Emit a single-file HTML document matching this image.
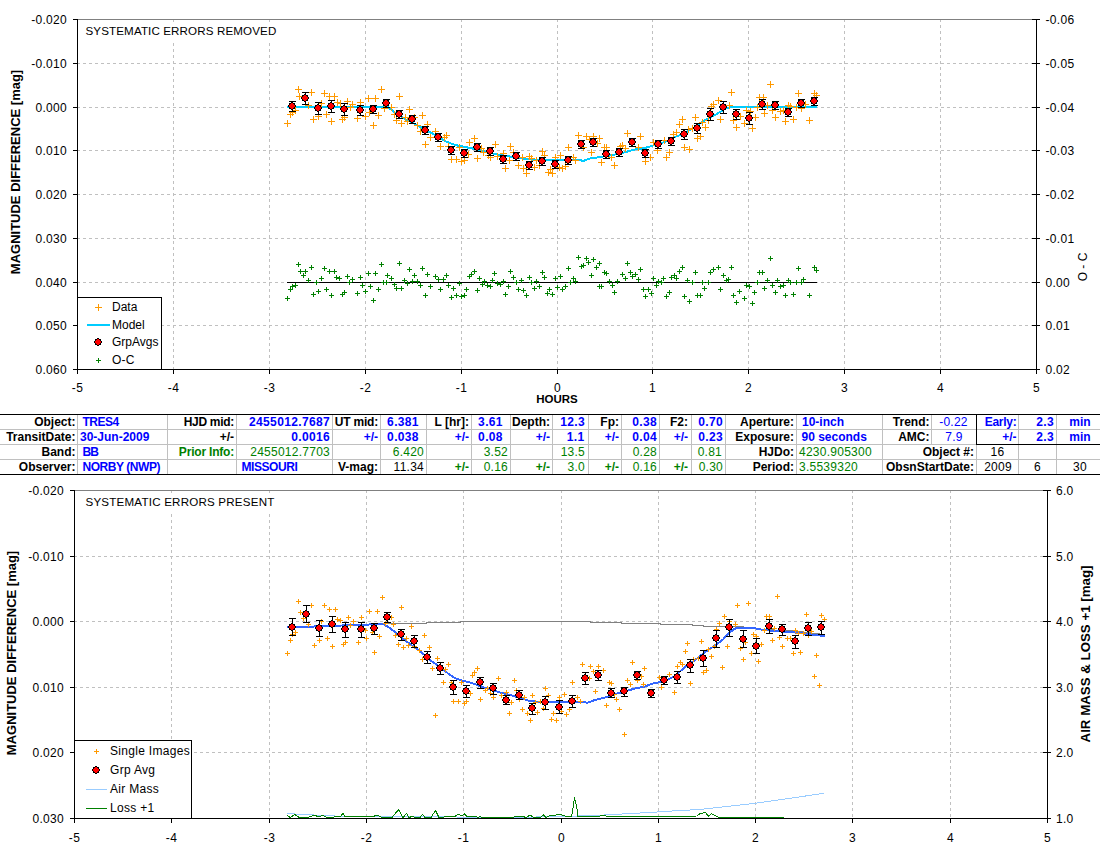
<!DOCTYPE html>
<html><head><meta charset="utf-8"><title>Transit light curve</title>
<style>
html,body{margin:0;padding:0;background:#fff;}
body{width:1100px;height:845px;overflow:hidden;position:relative;}
svg{position:absolute;left:0;top:0;}
.t{position:absolute;font-family:"Liberation Sans",sans-serif;font-size:12px;line-height:15px;height:15px;white-space:nowrap;}
.b{font-weight:bold;letter-spacing:0;}
.t:not(.b){letter-spacing:0.25px;}
</style></head><body>
<svg width="1100" height="845" viewBox="0 0 1100 845">
<g shape-rendering="crispEdges">
<line x1="77" y1="63.5" x2="1036" y2="63.5" stroke="#c0c0c0" stroke-width="1" stroke-dasharray="3 3"/>
<line x1="77" y1="107.5" x2="1036" y2="107.5" stroke="#c0c0c0" stroke-width="1" stroke-dasharray="3 3"/>
<line x1="77" y1="150.5" x2="1036" y2="150.5" stroke="#c0c0c0" stroke-width="1" stroke-dasharray="3 3"/>
<line x1="77" y1="194.5" x2="1036" y2="194.5" stroke="#c0c0c0" stroke-width="1" stroke-dasharray="3 3"/>
<line x1="77" y1="238.5" x2="1036" y2="238.5" stroke="#c0c0c0" stroke-width="1" stroke-dasharray="3 3"/>
<line x1="77" y1="282.5" x2="1036" y2="282.5" stroke="#c0c0c0" stroke-width="1" stroke-dasharray="3 3"/>
<line x1="77" y1="325.5" x2="1036" y2="325.5" stroke="#c0c0c0" stroke-width="1" stroke-dasharray="3 3"/>
<line x1="173.5" y1="19" x2="173.5" y2="369" stroke="#c0c0c0" stroke-width="1" stroke-dasharray="3 3"/>
<line x1="269.5" y1="19" x2="269.5" y2="369" stroke="#c0c0c0" stroke-width="1" stroke-dasharray="3 3"/>
<line x1="365.5" y1="19" x2="365.5" y2="369" stroke="#c0c0c0" stroke-width="1" stroke-dasharray="3 3"/>
<line x1="461.5" y1="19" x2="461.5" y2="369" stroke="#c0c0c0" stroke-width="1" stroke-dasharray="3 3"/>
<line x1="557.5" y1="19" x2="557.5" y2="369" stroke="#c0c0c0" stroke-width="1" stroke-dasharray="3 3"/>
<line x1="652.5" y1="19" x2="652.5" y2="369" stroke="#c0c0c0" stroke-width="1" stroke-dasharray="3 3"/>
<line x1="748.5" y1="19" x2="748.5" y2="369" stroke="#c0c0c0" stroke-width="1" stroke-dasharray="3 3"/>
<line x1="844.5" y1="19" x2="844.5" y2="369" stroke="#c0c0c0" stroke-width="1" stroke-dasharray="3 3"/>
<line x1="940.5" y1="19" x2="940.5" y2="369" stroke="#c0c0c0" stroke-width="1" stroke-dasharray="3 3"/>
<rect x="80" y="22" width="200" height="21" fill="#fff"/>
<line x1="77" y1="19.5" x2="1037" y2="19.5" stroke="#808080" stroke-width="1"/>
<line x1="77.5" y1="19" x2="77.5" y2="370" stroke="#000" stroke-width="1"/>
<line x1="1036.5" y1="19" x2="1036.5" y2="370" stroke="#000" stroke-width="1"/>
<line x1="77" y1="369.5" x2="1037" y2="369.5" stroke="#000" stroke-width="1"/>
<line x1="73" y1="19.5" x2="77" y2="19.5" stroke="#000" stroke-width="1"/>
<line x1="1032" y1="19.5" x2="1040" y2="19.5" stroke="#000" stroke-width="1"/>
<line x1="73" y1="63.5" x2="77" y2="63.5" stroke="#000" stroke-width="1"/>
<line x1="1032" y1="63.5" x2="1040" y2="63.5" stroke="#000" stroke-width="1"/>
<line x1="73" y1="107.5" x2="77" y2="107.5" stroke="#000" stroke-width="1"/>
<line x1="1032" y1="107.5" x2="1040" y2="107.5" stroke="#000" stroke-width="1"/>
<line x1="73" y1="150.5" x2="77" y2="150.5" stroke="#000" stroke-width="1"/>
<line x1="1032" y1="150.5" x2="1040" y2="150.5" stroke="#000" stroke-width="1"/>
<line x1="73" y1="194.5" x2="77" y2="194.5" stroke="#000" stroke-width="1"/>
<line x1="1032" y1="194.5" x2="1040" y2="194.5" stroke="#000" stroke-width="1"/>
<line x1="73" y1="238.5" x2="77" y2="238.5" stroke="#000" stroke-width="1"/>
<line x1="1032" y1="238.5" x2="1040" y2="238.5" stroke="#000" stroke-width="1"/>
<line x1="73" y1="282.5" x2="77" y2="282.5" stroke="#000" stroke-width="1"/>
<line x1="1032" y1="282.5" x2="1040" y2="282.5" stroke="#000" stroke-width="1"/>
<line x1="73" y1="325.5" x2="77" y2="325.5" stroke="#000" stroke-width="1"/>
<line x1="1032" y1="325.5" x2="1040" y2="325.5" stroke="#000" stroke-width="1"/>
<line x1="73" y1="369.5" x2="77" y2="369.5" stroke="#000" stroke-width="1"/>
<line x1="1032" y1="369.5" x2="1040" y2="369.5" stroke="#000" stroke-width="1"/>
<line x1="77.5" y1="369" x2="77.5" y2="374" stroke="#000" stroke-width="1"/>
<line x1="173.5" y1="369" x2="173.5" y2="374" stroke="#000" stroke-width="1"/>
<line x1="269.5" y1="369" x2="269.5" y2="374" stroke="#000" stroke-width="1"/>
<line x1="365.5" y1="369" x2="365.5" y2="374" stroke="#000" stroke-width="1"/>
<line x1="461.5" y1="369" x2="461.5" y2="374" stroke="#000" stroke-width="1"/>
<line x1="557.5" y1="369" x2="557.5" y2="374" stroke="#000" stroke-width="1"/>
<line x1="652.5" y1="369" x2="652.5" y2="374" stroke="#000" stroke-width="1"/>
<line x1="748.5" y1="369" x2="748.5" y2="374" stroke="#000" stroke-width="1"/>
<line x1="844.5" y1="369" x2="844.5" y2="374" stroke="#000" stroke-width="1"/>
<line x1="940.5" y1="369" x2="940.5" y2="374" stroke="#000" stroke-width="1"/>
<line x1="1036.5" y1="369" x2="1036.5" y2="374" stroke="#000" stroke-width="1"/>
<line x1="287" y1="282.5" x2="817" y2="282.5" stroke="#000" stroke-width="1"/>
</g>
<polyline points="287,106.8 388,107 394,112 405,119 415,124 425,129.5 435,135 445,141 455,145 465,147 475,149 485,151.5 495,154 505,156 515,157 520,158 530,159.5 550,160 580,160 583,161 590,158.5 600,157 610,155.5 620,153.5 635,149.5 645,148 655,145 665,142 675,137 685,133 695,127 705,120 715,115 720,112 725,109 730,107 817,107" fill="none" stroke="#00ccff" stroke-width="2" shape-rendering="crispEdges" stroke-linejoin="miter"/>
<g shape-rendering="crispEdges">
<path d="M295,89.5h7M298.5,86v7M308,92.5h7M311.5,89v7M296,96.5h7M299.5,93v7M321,93.5h7M324.5,90v7M326,96.5h7M329.5,93v7M331,96.5h7M334.5,93v7M334,102.5h7M337.5,99v7M318,103.5h7M321.5,100v7M337,103.5h7M340.5,100v7M344,101.5h7M347.5,98v7M349,104.5h7M352.5,101v7M357,102.5h7M360.5,99v7M365,98.5h7M368.5,95v7M372,98.5h7M375.5,95v7M378,89.5h7M381.5,86v7M305,105.5h7M308.5,102v7M292,110.5h7M295.5,107v7M289,112.5h7M292.5,109v7M287,114.5h7M290.5,111v7M284,123.5h7M287.5,120v7M310,119.5h7M313.5,116v7M315,116.5h7M318.5,113v7M323,114.5h7M326.5,111v7M328,121.5h7M331.5,118v7M339,119.5h7M342.5,116v7M341,117.5h7M344.5,114v7M347,107.5h7M350.5,104v7M354,118.5h7M357.5,115v7M362,116.5h7M365.5,113v7M375,115.5h7M378.5,112v7M370,125.5h7M373.5,122v7M366,112.5h7M369.5,109v7M381,108.5h7M384.5,105v7M396,96.5h7M399.5,93v7M388,107.5h7M391.5,104v7M406,109.5h7M409.5,106v7M419,115.5h7M422.5,112v7M391,114.5h7M394.5,111v7M393,120.5h7M396.5,117v7M398,123.5h7M401.5,120v7M402,117.5h7M405.5,114v7M404,121.5h7M407.5,118v7M411,117.5h7M414.5,114v7M414,125.5h7M417.5,122v7M424,124.5h7M427.5,121v7M417,131.5h7M420.5,128v7M432,131.5h7M435.5,128v7M422,144.5h7M425.5,141v7M427,137.5h7M430.5,134v7M443,135.5h7M446.5,132v7M441,137.5h7M444.5,134v7M437,146.5h7M440.5,143v7M445,146.5h7M448.5,143v7M456,147.5h7M459.5,144v7M448,159.5h7M451.5,156v7M453,159.5h7M456.5,156v7M458,161.5h7M461.5,158v7M461,160.5h7M464.5,157v7M465,154.5h7M468.5,151v7M466,142.5h7M469.5,139v7M471,138.5h7M474.5,135v7M474,158.5h7M477.5,155v7M478,148.5h7M481.5,145v7M480,152.5h7M483.5,149v7M485,155.5h7M488.5,152v7M487,157.5h7M490.5,154v7M492,144.5h7M495.5,141v7M494,156.5h7M497.5,153v7M500,153.5h7M503.5,150v7M506,160.5h7M509.5,157v7M502,168.5h7M505.5,165v7M507,146.5h7M510.5,143v7M510,152.5h7M513.5,149v7M519,157.5h7M522.5,154v7M515,165.5h7M518.5,162v7M520,168.5h7M523.5,165v7M523,173.5h7M526.5,170v7M526,156.5h7M529.5,153v7M528,158.5h7M531.5,155v7M531,167.5h7M534.5,164v7M533,160.5h7M536.5,157v7M536,165.5h7M539.5,162v7M539,151.5h7M542.5,148v7M541,155.5h7M544.5,152v7M545,172.5h7M548.5,169v7M547,169.5h7M550.5,166v7M549,173.5h7M552.5,170v7M552,157.5h7M555.5,154v7M557,155.5h7M560.5,152v7M556,167.5h7M559.5,164v7M559,168.5h7M562.5,165v7M562,166.5h7M565.5,163v7M565,147.5h7M568.5,144v7M570,157.5h7M573.5,154v7M572,160.5h7M575.5,157v7M575,135.5h7M578.5,132v7M580,147.5h7M583.5,144v7M583,136.5h7M586.5,133v7M586,139.5h7M589.5,136v7M590,136.5h7M593.5,133v7M596,138.5h7M599.5,135v7M594,143.5h7M597.5,140v7M588,152.5h7M591.5,149v7M601,147.5h7M604.5,144v7M603,147.5h7M606.5,144v7M598,162.5h7M601.5,159v7M608,157.5h7M611.5,154v7M611,165.5h7M614.5,162v7M617,146.5h7M620.5,143v7M624,133.5h7M627.5,130v7M619,145.5h7M622.5,142v7M622,148.5h7M625.5,145v7M637,136.5h7M640.5,133v7M635,147.5h7M638.5,144v7M647,157.5h7M650.5,154v7M642,161.5h7M645.5,158v7M650,142.5h7M653.5,139v7M654,150.5h7M657.5,147v7M661,140.5h7M664.5,137v7M666,152.5h7M669.5,149v7M663,157.5h7M666.5,154v7M670,134.5h7M673.5,131v7M673,132.5h7M676.5,129v7M676,124.5h7M679.5,121v7M679,119.5h7M682.5,116v7M681,147.5h7M684.5,144v7M686,149.5h7M689.5,146v7M685,129.5h7M688.5,126v7M689,128.5h7M692.5,125v7M692,117.5h7M695.5,114v7M694,138.5h7M697.5,135v7M697,136.5h7M700.5,133v7M699,122.5h7M702.5,119v7M702,127.5h7M705.5,124v7M705,120.5h7M708.5,117v7M708,106.5h7M711.5,103v7M710,104.5h7M713.5,101v7M715,100.5h7M718.5,97v7M717,119.5h7M720.5,116v7M728,92.5h7M731.5,89v7M726,105.5h7M729.5,102v7M730,120.5h7M733.5,117v7M733,127.5h7M736.5,124v7M737,116.5h7M740.5,113v7M741,123.5h7M744.5,120v7M743,110.5h7M746.5,107v7M747,111.5h7M750.5,108v7M752,117.5h7M755.5,114v7M749,128.5h7M752.5,125v7M754,107.5h7M757.5,104v7M756,97.5h7M759.5,94v7M760,97.5h7M763.5,94v7M761,113.5h7M764.5,110v7M764,105.5h7M767.5,102v7M767,84.5h7M770.5,81v7M769,110.5h7M772.5,107v7M772,117.5h7M775.5,114v7M777,111.5h7M780.5,108v7M780,110.5h7M783.5,107v7M782,121.5h7M785.5,118v7M785,105.5h7M788.5,102v7M787,106.5h7M790.5,103v7M790,119.5h7M793.5,116v7M793,107.5h7M796.5,104v7M795,93.5h7M798.5,90v7M798,108.5h7M801.5,105v7M802,104.5h7M805.5,101v7M806,120.5h7M809.5,117v7M811,93.5h7M814.5,90v7M813,95.5h7M816.5,92v7" stroke="#ff9900" stroke-width="1" fill="none"/>
</g>
<g shape-rendering="crispEdges">
<path d="M292.5,101V112M289,101.5h7M289,111.5h7M305.5,92V105M302,92.5h7M302,104.5h7M318.5,102V115M315,102.5h7M315,114.5h7M331.5,100V113M328,100.5h7M328,112.5h7M344.5,103V116M341,103.5h7M341,115.5h7M360.5,105V116M357,105.5h7M357,115.5h7M373.5,105V114M370,105.5h7M370,113.5h7M386.5,99V108M383,99.5h7M383,107.5h7M399.5,110V119M396,110.5h7M396,118.5h7M412.5,115V124M409,115.5h7M409,123.5h7M425.5,126V135M422,126.5h7M422,134.5h7M438.5,133V142M435,133.5h7M435,141.5h7M451.5,146V155M448,146.5h7M448,154.5h7M464.5,149V158M461,149.5h7M461,157.5h7M477.5,143V152M474,143.5h7M474,151.5h7M490.5,147V156M487,147.5h7M487,155.5h7M503.5,155V164M500,155.5h7M500,163.5h7M516.5,152V161M513,152.5h7M513,160.5h7M529.5,161V170M526,161.5h7M526,169.5h7M542.5,157V166M539,157.5h7M539,165.5h7M555.5,160V169M552,160.5h7M552,168.5h7M568.5,156V165M565,156.5h7M565,164.5h7M581.5,140V149M578,140.5h7M578,148.5h7M593.5,138V147M590,138.5h7M590,146.5h7M606.5,150V159M603,150.5h7M603,158.5h7M619.5,148V157M616,148.5h7M616,156.5h7M632.5,138V147M629,138.5h7M629,146.5h7M645.5,149V158M642,149.5h7M642,157.5h7M658.5,140V149M655,140.5h7M655,148.5h7M671.5,137V146M668,137.5h7M668,145.5h7M684.5,129V140M681,129.5h7M681,139.5h7M697.5,123V134M694,123.5h7M694,133.5h7M710.5,108V121M707,108.5h7M707,120.5h7M723.5,101V114M720,101.5h7M720,113.5h7M736.5,109V120M733,109.5h7M733,119.5h7M749.5,112V125M746,112.5h7M746,124.5h7M762.5,99V110M759,99.5h7M759,109.5h7M775.5,101V110M772,101.5h7M772,109.5h7M788.5,108V117M785,108.5h7M785,116.5h7M801.5,99V108M798,99.5h7M798,107.5h7M814.5,97V106M811,97.5h7M811,105.5h7" stroke="#000" stroke-width="1" fill="none"/>
</g>
<path d="M291,102h2v1h2v2h1v2h-1v2h-2v1h-2v-1h-2v-2h-1v-2h1v-2h2zM304,94h2v1h2v2h1v2h-1v2h-2v1h-2v-1h-2v-2h-1v-2h1v-2h2zM317,104h2v1h2v2h1v2h-1v2h-2v1h-2v-1h-2v-2h-1v-2h1v-2h2zM330,102h2v1h2v2h1v2h-1v2h-2v1h-2v-1h-2v-2h-1v-2h1v-2h2zM343,105h2v1h2v2h1v2h-1v2h-2v1h-2v-1h-2v-2h-1v-2h1v-2h2zM359,106h2v1h2v2h1v2h-1v2h-2v1h-2v-1h-2v-2h-1v-2h1v-2h2zM372,105h2v1h2v2h1v2h-1v2h-2v1h-2v-1h-2v-2h-1v-2h1v-2h2zM385,99h2v1h2v2h1v2h-1v2h-2v1h-2v-1h-2v-2h-1v-2h1v-2h2zM398,110h2v1h2v2h1v2h-1v2h-2v1h-2v-1h-2v-2h-1v-2h1v-2h2zM411,115h2v1h2v2h1v2h-1v2h-2v1h-2v-1h-2v-2h-1v-2h1v-2h2zM424,126h2v1h2v2h1v2h-1v2h-2v1h-2v-1h-2v-2h-1v-2h1v-2h2zM437,133h2v1h2v2h1v2h-1v2h-2v1h-2v-1h-2v-2h-1v-2h1v-2h2zM450,146h2v1h2v2h1v2h-1v2h-2v1h-2v-1h-2v-2h-1v-2h1v-2h2zM463,149h2v1h2v2h1v2h-1v2h-2v1h-2v-1h-2v-2h-1v-2h1v-2h2zM476,143h2v1h2v2h1v2h-1v2h-2v1h-2v-1h-2v-2h-1v-2h1v-2h2zM489,147h2v1h2v2h1v2h-1v2h-2v1h-2v-1h-2v-2h-1v-2h1v-2h2zM502,155h2v1h2v2h1v2h-1v2h-2v1h-2v-1h-2v-2h-1v-2h1v-2h2zM515,152h2v1h2v2h1v2h-1v2h-2v1h-2v-1h-2v-2h-1v-2h1v-2h2zM528,161h2v1h2v2h1v2h-1v2h-2v1h-2v-1h-2v-2h-1v-2h1v-2h2zM541,157h2v1h2v2h1v2h-1v2h-2v1h-2v-1h-2v-2h-1v-2h1v-2h2zM554,160h2v1h2v2h1v2h-1v2h-2v1h-2v-1h-2v-2h-1v-2h1v-2h2zM567,156h2v1h2v2h1v2h-1v2h-2v1h-2v-1h-2v-2h-1v-2h1v-2h2zM580,140h2v1h2v2h1v2h-1v2h-2v1h-2v-1h-2v-2h-1v-2h1v-2h2zM592,138h2v1h2v2h1v2h-1v2h-2v1h-2v-1h-2v-2h-1v-2h1v-2h2zM605,150h2v1h2v2h1v2h-1v2h-2v1h-2v-1h-2v-2h-1v-2h1v-2h2zM618,148h2v1h2v2h1v2h-1v2h-2v1h-2v-1h-2v-2h-1v-2h1v-2h2zM631,138h2v1h2v2h1v2h-1v2h-2v1h-2v-1h-2v-2h-1v-2h1v-2h2zM644,149h2v1h2v2h1v2h-1v2h-2v1h-2v-1h-2v-2h-1v-2h1v-2h2zM657,140h2v1h2v2h1v2h-1v2h-2v1h-2v-1h-2v-2h-1v-2h1v-2h2zM670,137h2v1h2v2h1v2h-1v2h-2v1h-2v-1h-2v-2h-1v-2h1v-2h2zM683,130h2v1h2v2h1v2h-1v2h-2v1h-2v-1h-2v-2h-1v-2h1v-2h2zM696,124h2v1h2v2h1v2h-1v2h-2v1h-2v-1h-2v-2h-1v-2h1v-2h2zM709,110h2v1h2v2h1v2h-1v2h-2v1h-2v-1h-2v-2h-1v-2h1v-2h2zM722,103h2v1h2v2h1v2h-1v2h-2v1h-2v-1h-2v-2h-1v-2h1v-2h2zM735,110h2v1h2v2h1v2h-1v2h-2v1h-2v-1h-2v-2h-1v-2h1v-2h2zM748,114h2v1h2v2h1v2h-1v2h-2v1h-2v-1h-2v-2h-1v-2h1v-2h2zM761,100h2v1h2v2h1v2h-1v2h-2v1h-2v-1h-2v-2h-1v-2h1v-2h2zM774,101h2v1h2v2h1v2h-1v2h-2v1h-2v-1h-2v-2h-1v-2h1v-2h2zM787,108h2v1h2v2h1v2h-1v2h-2v1h-2v-1h-2v-2h-1v-2h1v-2h2zM800,99h2v1h2v2h1v2h-1v2h-2v1h-2v-1h-2v-2h-1v-2h1v-2h2zM813,97h2v1h2v2h1v2h-1v2h-2v1h-2v-1h-2v-2h-1v-2h1v-2h2z" fill="#000" shape-rendering="crispEdges"/>
<path d="M291,103h2v1h1v1h1v2h-1v1h-1v1h-2v-1h-1v-1h-1v-2h1v-1h1zM304,95h2v1h1v1h1v2h-1v1h-1v1h-2v-1h-1v-1h-1v-2h1v-1h1zM317,105h2v1h1v1h1v2h-1v1h-1v1h-2v-1h-1v-1h-1v-2h1v-1h1zM330,103h2v1h1v1h1v2h-1v1h-1v1h-2v-1h-1v-1h-1v-2h1v-1h1zM343,106h2v1h1v1h1v2h-1v1h-1v1h-2v-1h-1v-1h-1v-2h1v-1h1zM359,107h2v1h1v1h1v2h-1v1h-1v1h-2v-1h-1v-1h-1v-2h1v-1h1zM372,106h2v1h1v1h1v2h-1v1h-1v1h-2v-1h-1v-1h-1v-2h1v-1h1zM385,100h2v1h1v1h1v2h-1v1h-1v1h-2v-1h-1v-1h-1v-2h1v-1h1zM398,111h2v1h1v1h1v2h-1v1h-1v1h-2v-1h-1v-1h-1v-2h1v-1h1zM411,116h2v1h1v1h1v2h-1v1h-1v1h-2v-1h-1v-1h-1v-2h1v-1h1zM424,127h2v1h1v1h1v2h-1v1h-1v1h-2v-1h-1v-1h-1v-2h1v-1h1zM437,134h2v1h1v1h1v2h-1v1h-1v1h-2v-1h-1v-1h-1v-2h1v-1h1zM450,147h2v1h1v1h1v2h-1v1h-1v1h-2v-1h-1v-1h-1v-2h1v-1h1zM463,150h2v1h1v1h1v2h-1v1h-1v1h-2v-1h-1v-1h-1v-2h1v-1h1zM476,144h2v1h1v1h1v2h-1v1h-1v1h-2v-1h-1v-1h-1v-2h1v-1h1zM489,148h2v1h1v1h1v2h-1v1h-1v1h-2v-1h-1v-1h-1v-2h1v-1h1zM502,156h2v1h1v1h1v2h-1v1h-1v1h-2v-1h-1v-1h-1v-2h1v-1h1zM515,153h2v1h1v1h1v2h-1v1h-1v1h-2v-1h-1v-1h-1v-2h1v-1h1zM528,162h2v1h1v1h1v2h-1v1h-1v1h-2v-1h-1v-1h-1v-2h1v-1h1zM541,158h2v1h1v1h1v2h-1v1h-1v1h-2v-1h-1v-1h-1v-2h1v-1h1zM554,161h2v1h1v1h1v2h-1v1h-1v1h-2v-1h-1v-1h-1v-2h1v-1h1zM567,157h2v1h1v1h1v2h-1v1h-1v1h-2v-1h-1v-1h-1v-2h1v-1h1zM580,141h2v1h1v1h1v2h-1v1h-1v1h-2v-1h-1v-1h-1v-2h1v-1h1zM592,139h2v1h1v1h1v2h-1v1h-1v1h-2v-1h-1v-1h-1v-2h1v-1h1zM605,151h2v1h1v1h1v2h-1v1h-1v1h-2v-1h-1v-1h-1v-2h1v-1h1zM618,149h2v1h1v1h1v2h-1v1h-1v1h-2v-1h-1v-1h-1v-2h1v-1h1zM631,139h2v1h1v1h1v2h-1v1h-1v1h-2v-1h-1v-1h-1v-2h1v-1h1zM644,150h2v1h1v1h1v2h-1v1h-1v1h-2v-1h-1v-1h-1v-2h1v-1h1zM657,141h2v1h1v1h1v2h-1v1h-1v1h-2v-1h-1v-1h-1v-2h1v-1h1zM670,138h2v1h1v1h1v2h-1v1h-1v1h-2v-1h-1v-1h-1v-2h1v-1h1zM683,131h2v1h1v1h1v2h-1v1h-1v1h-2v-1h-1v-1h-1v-2h1v-1h1zM696,125h2v1h1v1h1v2h-1v1h-1v1h-2v-1h-1v-1h-1v-2h1v-1h1zM709,111h2v1h1v1h1v2h-1v1h-1v1h-2v-1h-1v-1h-1v-2h1v-1h1zM722,104h2v1h1v1h1v2h-1v1h-1v1h-2v-1h-1v-1h-1v-2h1v-1h1zM735,111h2v1h1v1h1v2h-1v1h-1v1h-2v-1h-1v-1h-1v-2h1v-1h1zM748,115h2v1h1v1h1v2h-1v1h-1v1h-2v-1h-1v-1h-1v-2h1v-1h1zM761,101h2v1h1v1h1v2h-1v1h-1v1h-2v-1h-1v-1h-1v-2h1v-1h1zM774,102h2v1h1v1h1v2h-1v1h-1v1h-2v-1h-1v-1h-1v-2h1v-1h1zM787,109h2v1h1v1h1v2h-1v1h-1v1h-2v-1h-1v-1h-1v-2h1v-1h1zM800,100h2v1h1v1h1v2h-1v1h-1v1h-2v-1h-1v-1h-1v-2h1v-1h1zM813,98h2v1h1v1h1v2h-1v1h-1v1h-2v-1h-1v-1h-1v-2h1v-1h1z" fill="#ff0000" shape-rendering="crispEdges"/>
<g shape-rendering="crispEdges">
<path d="M296,264.5h5M298.5,262v5M309,267.5h5M311.5,265v5M322,268.5h5M324.5,266v5M298,271.5h5M300.5,269v5M303,271.5h5M305.5,269v5M327,271.5h5M329.5,269v5M332,271.5h5M334.5,269v5M301,275.5h5M303.5,273v5M306,280.5h5M308.5,278v5M319,278.5h5M321.5,276v5M334,277.5h5M336.5,275v5M337,278.5h5M339.5,276v5M345,276.5h5M347.5,274v5M350,279.5h5M352.5,277v5M358,277.5h5M360.5,275v5M366,273.5h5M368.5,271v5M373,273.5h5M375.5,271v5M379,264.5h5M381.5,262v5M385,275.5h5M387.5,273v5M314,282.5h5M316.5,280v5M347,282.5h5M349.5,280v5M381,282.5h5M383.5,280v5M384,282.5h5M386.5,280v5M293,285.5h5M295.5,283v5M290,286.5h5M292.5,284v5M288,289.5h5M290.5,287v5M285,298.5h5M287.5,296v5M311,294.5h5M313.5,292v5M316,291.5h5M318.5,289v5M324,289.5h5M326.5,287v5M329,295.5h5M331.5,293v5M340,294.5h5M342.5,292v5M342,292.5h5M344.5,290v5M355,293.5h5M357.5,291v5M360,285.5h5M362.5,283v5M363,291.5h5M365.5,289v5M368,286.5h5M370.5,284v5M376,289.5h5M378.5,287v5M371,300.5h5M373.5,298v5M397,263.5h5M399.5,261v5M407,269.5h5M409.5,267v5M420,268.5h5M422.5,266v5M389,278.5h5M391.5,276v5M412,275.5h5M414.5,273v5M425,274.5h5M427.5,272v5M433,276.5h5M435.5,274v5M444,275.5h5M446.5,273v5M436,279.5h5M438.5,277v5M441,279.5h5M443.5,277v5M402,280.5h5M404.5,278v5M405,283.5h5M407.5,281v5M410,281.5h5M412.5,279v5M415,281.5h5M417.5,279v5M392,284.5h5M394.5,282v5M394,288.5h5M396.5,286v5M399,288.5h5M401.5,286v5M418,285.5h5M420.5,283v5M428,286.5h5M430.5,284v5M438,289.5h5M440.5,287v5M423,295.5h5M425.5,293v5M446,285.5h5M448.5,283v5M451,288.5h5M453.5,286v5M457,283.5h5M459.5,281v5M449,297.5h5M451.5,295v5M454,295.5h5M456.5,293v5M459,296.5h5M461.5,294v5M462,295.5h5M464.5,293v5M464,289.5h5M466.5,287v5M467,276.5h5M469.5,274v5M469,274.5h5M471.5,272v5M472,271.5h5M474.5,269v5M477,278.5h5M479.5,276v5M475,290.5h5M477.5,288v5M480,284.5h5M482.5,282v5M482,281.5h5M484.5,279v5M485,285.5h5M487.5,283v5M488,286.5h5M490.5,284v5M490,280.5h5M492.5,278v5M492,273.5h5M494.5,271v5M495,283.5h5M497.5,281v5M498,284.5h5M500.5,282v5M501,281.5h5M503.5,279v5M503,294.5h5M505.5,292v5M506,286.5h5M508.5,284v5M508,271.5h5M510.5,269v5M511,277.5h5M513.5,275v5M514,282.5h5M516.5,280v5M516,289.5h5M518.5,287v5M519,280.5h5M521.5,278v5M521,290.5h5M523.5,288v5M524,295.5h5M526.5,293v5M527,277.5h5M529.5,275v5M529,282.5h5M531.5,280v5M532,288.5h5M534.5,286v5M534,281.5h5M536.5,279v5M537,286.5h5M539.5,284v5M540,272.5h5M542.5,270v5M542,277.5h5M544.5,275v5M545,293.5h5M547.5,291v5M547,289.5h5M549.5,287v5M550,294.5h5M552.5,292v5M553,278.5h5M555.5,276v5M555,287.5h5M557.5,285v5M558,276.5h5M560.5,274v5M560,289.5h5M562.5,287v5M563,286.5h5M565.5,284v5M566,268.5h5M568.5,266v5M568,282.5h5M570.5,280v5M571,278.5h5M573.5,276v5M573,281.5h5M575.5,279v5M576,257.5h5M578.5,255v5M579,266.5h5M581.5,264v5M581,265.5h5M583.5,263v5M584,258.5h5M586.5,256v5M586,262.5h5M588.5,260v5M589,275.5h5M591.5,273v5M591,259.5h5M593.5,257v5M594,267.5h5M596.5,265v5M597,263.5h5M599.5,261v5M597,286.5h5M599.5,284v5M602,272.5h5M604.5,270v5M604,273.5h5M606.5,271v5M599,286.5h5M601.5,284v5M607,281.5h5M609.5,279v5M610,285.5h5M612.5,283v5M612,292.5h5M614.5,290v5M615,281.5h5M617.5,279v5M620,274.5h5M622.5,272v5M623,278.5h5M625.5,276v5M625,263.5h5M627.5,261v5M628,272.5h5M630.5,270v5M630,276.5h5M632.5,274v5M633,274.5h5M635.5,272v5M636,279.5h5M638.5,277v5M638,269.5h5M640.5,267v5M641,289.5h5M643.5,287v5M643,296.5h5M645.5,294v5M646,289.5h5M648.5,287v5M649,293.5h5M651.5,291v5M651,278.5h5M653.5,276v5M654,285.5h5M656.5,283v5M656,281.5h5M658.5,279v5M659,282.5h5M661.5,280v5M661,278.5h5M663.5,276v5M664,296.5h5M666.5,294v5M667,292.5h5M669.5,290v5M669,277.5h5M671.5,275v5M672,275.5h5M674.5,273v5M674,278.5h5M676.5,276v5M677,271.5h5M679.5,269v5M680,267.5h5M682.5,265v5M682,296.5h5M684.5,294v5M685,280.5h5M687.5,278v5M687,301.5h5M689.5,299v5M690,282.5h5M692.5,280v5M693,272.5h5M695.5,270v5M695,295.5h5M697.5,293v5M698,295.5h5M700.5,293v5M700,282.5h5M702.5,280v5M702,288.5h5M704.5,286v5M706,282.5h5M708.5,280v5M708,272.5h5M710.5,270v5M711,269.5h5M713.5,267v5M716,267.5h5M718.5,265v5M718,289.5h5M720.5,287v5M721,275.5h5M723.5,273v5M724,280.5h5M726.5,278v5M726,279.5h5M728.5,277v5M729,267.5h5M731.5,265v5M731,295.5h5M733.5,293v5M734,302.5h5M736.5,300v5M737,291.5h5M739.5,289v5M742,298.5h5M744.5,296v5M744,285.5h5M746.5,283v5M747,286.5h5M749.5,284v5M750,303.5h5M752.5,301v5M752,292.5h5M754.5,290v5M755,282.5h5M757.5,280v5M757,272.5h5M759.5,270v5M760,272.5h5M762.5,270v5M762,288.5h5M764.5,286v5M765,280.5h5M767.5,278v5M768,258.5h5M770.5,256v5M770,285.5h5M772.5,283v5M773,292.5h5M775.5,290v5M775,280.5h5M777.5,278v5M778,286.5h5M780.5,284v5M781,285.5h5M783.5,283v5M783,295.5h5M785.5,293v5M786,280.5h5M788.5,278v5M788,282.5h5M790.5,280v5M791,294.5h5M793.5,292v5M794,282.5h5M796.5,280v5M796,268.5h5M798.5,266v5M799,282.5h5M801.5,280v5M801,279.5h5M803.5,277v5M807,295.5h5M809.5,293v5M812,267.5h5M814.5,265v5M814,270.5h5M816.5,268v5" stroke="#008000" stroke-width="1" fill="none"/>
</g>
<g shape-rendering="crispEdges">
<rect x="77.5" y="297.5" width="84" height="72" fill="#fff" stroke="#000" stroke-width="1"/>
<path d="M95,307.5h7M98.5,304v7" stroke="#ff9900" stroke-width="1" fill="none"/>
<rect x="87" y="324" width="23" height="2" fill="#00ccff"/>
</g>
<path d="M97,338h2v1h2v2h1v2h-1v2h-2v1h-2v-1h-2v-2h-1v-2h1v-2h2z" fill="#000" shape-rendering="crispEdges"/>
<path d="M97,339h2v1h1v1h1v2h-1v1h-1v1h-2v-1h-1v-1h-1v-2h1v-1h1z" fill="#ff0000" shape-rendering="crispEdges"/>
<g shape-rendering="crispEdges">
<path d="M96,360.5h5M98.5,358v5" stroke="#008000" stroke-width="1" fill="none"/>
</g>
<g font-family='"Liberation Sans", sans-serif' fill="#000">
<text x="112" y="311" font-size="12" font-weight="normal" text-anchor="start" letter-spacing="0">Data</text>
<text x="112" y="328.5" font-size="12" font-weight="normal" text-anchor="start" letter-spacing="0">Model</text>
<text x="112" y="346" font-size="12" font-weight="normal" text-anchor="start" letter-spacing="0">GrpAvgs</text>
<text x="112" y="363.5" font-size="12" font-weight="normal" text-anchor="start" letter-spacing="0.2">O-C</text>
<text x="85.5" y="35" font-size="11.6" font-weight="normal" text-anchor="start" letter-spacing="0.12">SYSTEMATIC ERRORS REMOVED</text>
<text x="67" y="23.5" font-size="12" font-weight="normal" text-anchor="end" letter-spacing="0.3">-0.020</text>
<text x="1045.5" y="23.5" font-size="12" font-weight="normal" text-anchor="start" letter-spacing="0.3">-0.06</text>
<text x="67" y="67.5" font-size="12" font-weight="normal" text-anchor="end" letter-spacing="0.3">-0.010</text>
<text x="1045.5" y="67.5" font-size="12" font-weight="normal" text-anchor="start" letter-spacing="0.3">-0.05</text>
<text x="67" y="111.5" font-size="12" font-weight="normal" text-anchor="end" letter-spacing="0.3">0.000</text>
<text x="1045.5" y="111.5" font-size="12" font-weight="normal" text-anchor="start" letter-spacing="0.3">-0.04</text>
<text x="67" y="154.5" font-size="12" font-weight="normal" text-anchor="end" letter-spacing="0.3">0.010</text>
<text x="1045.5" y="154.5" font-size="12" font-weight="normal" text-anchor="start" letter-spacing="0.3">-0.03</text>
<text x="67" y="198.5" font-size="12" font-weight="normal" text-anchor="end" letter-spacing="0.3">0.020</text>
<text x="1045.5" y="198.5" font-size="12" font-weight="normal" text-anchor="start" letter-spacing="0.3">-0.02</text>
<text x="67" y="242.5" font-size="12" font-weight="normal" text-anchor="end" letter-spacing="0.3">0.030</text>
<text x="1045.5" y="242.5" font-size="12" font-weight="normal" text-anchor="start" letter-spacing="0.3">-0.01</text>
<text x="67" y="286.5" font-size="12" font-weight="normal" text-anchor="end" letter-spacing="0.3">0.040</text>
<text x="1045.5" y="286.5" font-size="12" font-weight="normal" text-anchor="start" letter-spacing="0.3">0.00</text>
<text x="67" y="329.5" font-size="12" font-weight="normal" text-anchor="end" letter-spacing="0.3">0.050</text>
<text x="1045.5" y="329.5" font-size="12" font-weight="normal" text-anchor="start" letter-spacing="0.3">0.01</text>
<text x="67" y="373.5" font-size="12" font-weight="normal" text-anchor="end" letter-spacing="0.3">0.060</text>
<text x="1045.5" y="373.5" font-size="12" font-weight="normal" text-anchor="start" letter-spacing="0.3">0.02</text>
<text x="77.5" y="392" font-size="12" font-weight="normal" text-anchor="middle" letter-spacing="0.3">-5</text>
<text x="173.5" y="392" font-size="12" font-weight="normal" text-anchor="middle" letter-spacing="0.3">-4</text>
<text x="269.5" y="392" font-size="12" font-weight="normal" text-anchor="middle" letter-spacing="0.3">-3</text>
<text x="365.5" y="392" font-size="12" font-weight="normal" text-anchor="middle" letter-spacing="0.3">-2</text>
<text x="461.5" y="392" font-size="12" font-weight="normal" text-anchor="middle" letter-spacing="0.3">-1</text>
<text x="557.5" y="392" font-size="12" font-weight="normal" text-anchor="middle" letter-spacing="0.3">0</text>
<text x="652.5" y="392" font-size="12" font-weight="normal" text-anchor="middle" letter-spacing="0.3">1</text>
<text x="748.5" y="392" font-size="12" font-weight="normal" text-anchor="middle" letter-spacing="0.3">2</text>
<text x="844.5" y="392" font-size="12" font-weight="normal" text-anchor="middle" letter-spacing="0.3">3</text>
<text x="940.5" y="392" font-size="12" font-weight="normal" text-anchor="middle" letter-spacing="0.3">4</text>
<text x="1036.5" y="392" font-size="12" font-weight="normal" text-anchor="middle" letter-spacing="0.3">5</text>
<text x="557" y="403" font-size="11.5" font-weight="bold" text-anchor="middle" letter-spacing="0">HOURS</text>
<text transform="translate(20,172) rotate(-90)" font-size="13" font-weight="bold" text-anchor="middle">MAGNITUDE DIFFERENCE [mag]</text>
<text transform="translate(1087,267) rotate(-90)" font-size="12" text-anchor="middle">O - C</text>
</g>
<g shape-rendering="crispEdges">
<line x1="74" y1="556.5" x2="1047" y2="556.5" stroke="#c0c0c0" stroke-width="1" stroke-dasharray="3 3"/>
<line x1="74" y1="621.5" x2="1047" y2="621.5" stroke="#c0c0c0" stroke-width="1" stroke-dasharray="3 3"/>
<line x1="74" y1="687.5" x2="1047" y2="687.5" stroke="#c0c0c0" stroke-width="1" stroke-dasharray="3 3"/>
<line x1="74" y1="752.5" x2="1047" y2="752.5" stroke="#c0c0c0" stroke-width="1" stroke-dasharray="3 3"/>
<line x1="171.5" y1="490" x2="171.5" y2="818" stroke="#c0c0c0" stroke-width="1" stroke-dasharray="3 3"/>
<line x1="269.5" y1="490" x2="269.5" y2="818" stroke="#c0c0c0" stroke-width="1" stroke-dasharray="3 3"/>
<line x1="366.5" y1="490" x2="366.5" y2="818" stroke="#c0c0c0" stroke-width="1" stroke-dasharray="3 3"/>
<line x1="463.5" y1="490" x2="463.5" y2="818" stroke="#c0c0c0" stroke-width="1" stroke-dasharray="3 3"/>
<line x1="561.5" y1="490" x2="561.5" y2="818" stroke="#c0c0c0" stroke-width="1" stroke-dasharray="3 3"/>
<line x1="658.5" y1="490" x2="658.5" y2="818" stroke="#c0c0c0" stroke-width="1" stroke-dasharray="3 3"/>
<line x1="755.5" y1="490" x2="755.5" y2="818" stroke="#c0c0c0" stroke-width="1" stroke-dasharray="3 3"/>
<line x1="852.5" y1="490" x2="852.5" y2="818" stroke="#c0c0c0" stroke-width="1" stroke-dasharray="3 3"/>
<line x1="950.5" y1="490" x2="950.5" y2="818" stroke="#c0c0c0" stroke-width="1" stroke-dasharray="3 3"/>
<rect x="77" y="493" width="203" height="21" fill="#fff"/>
<line x1="74" y1="490.5" x2="1048" y2="490.5" stroke="#808080" stroke-width="1"/>
<line x1="74.5" y1="490" x2="74.5" y2="819" stroke="#000" stroke-width="1"/>
<line x1="1047.5" y1="490" x2="1047.5" y2="819" stroke="#000" stroke-width="1"/>
<line x1="74" y1="818.5" x2="1048" y2="818.5" stroke="#000" stroke-width="1"/>
<line x1="70" y1="490.5" x2="74" y2="490.5" stroke="#000" stroke-width="1"/>
<line x1="1043" y1="490.5" x2="1051" y2="490.5" stroke="#000" stroke-width="1"/>
<line x1="70" y1="556.5" x2="74" y2="556.5" stroke="#000" stroke-width="1"/>
<line x1="1043" y1="556.5" x2="1051" y2="556.5" stroke="#000" stroke-width="1"/>
<line x1="70" y1="621.5" x2="74" y2="621.5" stroke="#000" stroke-width="1"/>
<line x1="1043" y1="621.5" x2="1051" y2="621.5" stroke="#000" stroke-width="1"/>
<line x1="70" y1="687.5" x2="74" y2="687.5" stroke="#000" stroke-width="1"/>
<line x1="1043" y1="687.5" x2="1051" y2="687.5" stroke="#000" stroke-width="1"/>
<line x1="70" y1="752.5" x2="74" y2="752.5" stroke="#000" stroke-width="1"/>
<line x1="1043" y1="752.5" x2="1051" y2="752.5" stroke="#000" stroke-width="1"/>
<line x1="70" y1="818.5" x2="74" y2="818.5" stroke="#000" stroke-width="1"/>
<line x1="1043" y1="818.5" x2="1051" y2="818.5" stroke="#000" stroke-width="1"/>
<line x1="74.5" y1="818" x2="74.5" y2="823" stroke="#000" stroke-width="1"/>
<line x1="171.5" y1="818" x2="171.5" y2="823" stroke="#000" stroke-width="1"/>
<line x1="269.5" y1="818" x2="269.5" y2="823" stroke="#000" stroke-width="1"/>
<line x1="366.5" y1="818" x2="366.5" y2="823" stroke="#000" stroke-width="1"/>
<line x1="463.5" y1="818" x2="463.5" y2="823" stroke="#000" stroke-width="1"/>
<line x1="561.5" y1="818" x2="561.5" y2="823" stroke="#000" stroke-width="1"/>
<line x1="658.5" y1="818" x2="658.5" y2="823" stroke="#000" stroke-width="1"/>
<line x1="755.5" y1="818" x2="755.5" y2="823" stroke="#000" stroke-width="1"/>
<line x1="852.5" y1="818" x2="852.5" y2="823" stroke="#000" stroke-width="1"/>
<line x1="950.5" y1="818" x2="950.5" y2="823" stroke="#000" stroke-width="1"/>
<line x1="1047.5" y1="818" x2="1047.5" y2="823" stroke="#000" stroke-width="1"/>
</g>
<polyline points="287,627.5 383,623.5 426,623.5 426,622.5 460,622.5 460,621.5 590,621.5 590,622.5 621,622.5 621,623.5 660,623.5 660,624.5 692,624.5 692,625.5 703,625.5 703,626.5 740,626.5 754,628.5 764,629.5 796,631 815,633.5 825,634.5" fill="none" stroke="#808080" stroke-width="1" shape-rendering="crispEdges"/>
<polyline points="287,627.5 383,624 390,628 401.5,637.5 410,644 420,651 430,660 440,667 450,675 455,678 460,680 470,682.5 480,686 490,689.5 500,692.5 510,695 520,698 530,701 540,702 555,701.5 583,701.5 587,703 595,700 605,697.5 615,694 625,691.5 635,688.5 645,686.5 653,683.5 665,681 675,676 685,667 695,660 705,652 715,645.5 723,639.5 730,632 736,628 754,628 761,629.5 775,631 795,632.5 815,635 825,636" fill="none" stroke="#3366ff" stroke-width="2" shape-rendering="crispEdges" stroke-linejoin="miter"/>
<g shape-rendering="crispEdges">
<path d="M296,601.5h5M298.5,599v5M309,605.5h5M311.5,603v5M322,605.5h5M324.5,603v5M327,609.5h5M329.5,607v5M333,609.5h5M335.5,607v5M298,612.5h5M300.5,610v5M301,618.5h5M303.5,616v5M306,624.5h5M308.5,622v5M319,621.5h5M321.5,619v5M335,619.5h5M337.5,617v5M338,620.5h5M340.5,618v5M346,617.5h5M348.5,615v5M351,621.5h5M353.5,619v5M348,625.5h5M350.5,623v5M359,617.5h5M361.5,615v5M367,611.5h5M369.5,609v5M375,611.5h5M377.5,609v5M380,597.5h5M382.5,595v5M383,623.5h5M385.5,621v5M290,634.5h5M292.5,632v5M293,632.5h5M295.5,630v5M288,640.5h5M290.5,638v5M285,653.5h5M287.5,651v5M312,645.5h5M314.5,643v5M317,640.5h5M319.5,638v5M325,638.5h5M327.5,636v5M330,646.5h5M332.5,644v5M341,644.5h5M343.5,642v5M343,642.5h5M345.5,640v5M356,642.5h5M358.5,640v5M363,630.5h5M365.5,628v5M364,638.5h5M366.5,636v5M370,632.5h5M372.5,630v5M377,636.5h5M379.5,634v5M372,652.5h5M374.5,650v5M399,607.5h5M401.5,605v5M389,617.5h5M391.5,615v5M391,624.5h5M393.5,622v5M409,626.5h5M411.5,624v5M422,635.5h5M424.5,633v5M393,635.5h5M395.5,633v5M404,638.5h5M406.5,636v5M396,644.5h5M398.5,642v5M401,647.5h5M403.5,645v5M406,645.5h5M408.5,643v5M412,646.5h5M414.5,644v5M417,650.5h5M419.5,648v5M427,647.5h5M429.5,645v5M420,659.5h5M422.5,657v5M435,658.5h5M437.5,656v5M446,664.5h5M448.5,662v5M430,668.5h5M432.5,666v5M443,669.5h5M445.5,667v5M475,668.5h5M477.5,666v5M472,672.5h5M474.5,670v5M470,675.5h5M472.5,673v5M441,682.5h5M443.5,680v5M449,682.5h5M451.5,680v5M459,682.5h5M461.5,680v5M468,693.5h5M470.5,691v5M451,701.5h5M453.5,699v5M456,701.5h5M458.5,699v5M462,703.5h5M464.5,701v5M464,701.5h5M466.5,699v5M433,715.5h5M435.5,713v5M478,699.5h5M480.5,697v5M483,690.5h5M485.5,688v5M485,688.5h5M487.5,686v5M488,693.5h5M490.5,691v5M491,697.5h5M493.5,695v5M496,678.5h5M498.5,676v5M499,695.5h5M501.5,693v5M504,692.5h5M506.5,690v5M509,702.5h5M511.5,700v5M507,713.5h5M509.5,711v5M512,680.5h5M514.5,678v5M514,690.5h5M516.5,688v5M522,697.5h5M524.5,695v5M517,699.5h5M519.5,697v5M530,695.5h5M532.5,693v5M520,709.5h5M522.5,707v5M525,713.5h5M527.5,711v5M528,720.5h5M530.5,718v5M533,702.5h5M535.5,700v5M535,712.5h5M537.5,710v5M580,664.5h5M582.5,662v5M588,666.5h5M590.5,664v5M596,666.5h5M598.5,664v5M601,670.5h5M603.5,668v5M591,671.5h5M593.5,669v5M630,662.5h5M632.5,660v5M642,668.5h5M644.5,666v5M570,682.5h5M572.5,680v5M587,678.5h5M589.5,676v5M607,682.5h5M609.5,680v5M609,683.5h5M611.5,681v5M625,680.5h5M627.5,678v5M628,684.5h5M630.5,682v5M639,676.5h5M641.5,674v5M641,684.5h5M643.5,682v5M543,688.5h5M545.5,686v5M593,691.5h5M595.5,689v5M546,695.5h5M548.5,693v5M562,694.5h5M564.5,692v5M557,697.5h5M559.5,695v5M575,697.5h5M577.5,695v5M578,701.5h5M580.5,699v5M538,701.5h5M540.5,699v5M541,708.5h5M543.5,706v5M551,713.5h5M553.5,711v5M559,711.5h5M561.5,709v5M567,709.5h5M569.5,707v5M564,714.5h5M566.5,712v5M549,719.5h5M551.5,717v5M554,720.5h5M556.5,718v5M614,699.5h5M616.5,697v5M612,694.5h5M614.5,692v5M604,705.5h5M606.5,703v5M617,709.5h5M619.5,707v5M622,734.5h5M624.5,732v5M635,680.5h5M637.5,678v5M657,677.5h5M659.5,675v5M667,674.5h5M669.5,672v5M675,666.5h5M677.5,664v5M659,687.5h5M661.5,685v5M672,692.5h5M674.5,690v5M735,605.5h5M737.5,603v5M722,616.5h5M724.5,614v5M717,623.5h5M719.5,621v5M733,624.5h5M735.5,622v5M727,621.5h5M729.5,619v5M714,629.5h5M716.5,627v5M699,641.5h5M701.5,639v5M685,643.5h5M687.5,641v5M683,651.5h5M685.5,649v5M725,646.5h5M727.5,644v5M712,646.5h5M714.5,644v5M706,649.5h5M708.5,647v5M738,648.5h5M740.5,646v5M709,656.5h5M711.5,654v5M741,659.5h5M743.5,657v5M691,659.5h5M693.5,657v5M696,658.5h5M698.5,656v5M678,662.5h5M680.5,660v5M680,664.5h5M682.5,662v5M720,667.5h5M722.5,665v5M704,670.5h5M706.5,668v5M701,672.5h5M703.5,670v5M688,683.5h5M690.5,681v5M746,603.5h5M748.5,601v5M775,596.5h5M777.5,594v5M764,616.5h5M766.5,614v5M767,616.5h5M769.5,614v5M804,614.5h5M806.5,612v5M819,615.5h5M821.5,613v5M822,619.5h5M824.5,617v5M772,628.5h5M774.5,626v5M762,630.5h5M764.5,628v5M793,630.5h5M795.5,628v5M796,633.5h5M798.5,631v5M801,633.5h5M803.5,631v5M809,631.5h5M811.5,629v5M806,635.5h5M808.5,633v5M751,634.5h5M753.5,632v5M754,636.5h5M756.5,634v5M777,637.5h5M779.5,635v5M785,638.5h5M787.5,636v5M788,638.5h5M790.5,636v5M770,640.5h5M772.5,638v5M743,642.5h5M745.5,640v5M759,644.5h5M761.5,642v5M780,646.5h5M782.5,644v5M749,653.5h5M751.5,651v5M791,653.5h5M793.5,651v5M798,652.5h5M800.5,650v5M814,655.5h5M816.5,653v5M756,661.5h5M758.5,659v5M812,676.5h5M814.5,674v5M817,685.5h5M819.5,683v5" stroke="#ff9900" stroke-width="1" fill="none"/>
</g>
<g shape-rendering="crispEdges">
<path d="M292.5,618V636M289,618.5h7M289,635.5h7M306.5,605V623M303,605.5h7M303,622.5h7M319.5,620V637M316,620.5h7M316,636.5h7M332.5,616V633M329,616.5h7M329,632.5h7M345.5,622V638M342,622.5h7M342,637.5h7M361.5,622V638M358,622.5h7M358,637.5h7M374.5,623V635M371,623.5h7M371,634.5h7M387.5,612V623M384,612.5h7M384,622.5h7M401.5,629V641M398,629.5h7M398,640.5h7M414.5,635V648M411,635.5h7M411,647.5h7M427.5,651V664M424,651.5h7M424,663.5h7M440.5,662V675M437,662.5h7M437,674.5h7M453.5,680V695M450,680.5h7M450,694.5h7M466.5,685V698M463,685.5h7M463,697.5h7M480.5,677V689M477,677.5h7M477,688.5h7M493.5,683V695M490,683.5h7M490,694.5h7M506.5,695V705M503,695.5h7M503,704.5h7M519.5,690V700M516,690.5h7M516,699.5h7M532.5,703V715M529,703.5h7M529,714.5h7M545.5,696V710M542,696.5h7M542,709.5h7M559.5,700V714M556,700.5h7M556,713.5h7M572.5,695V708M569,695.5h7M569,707.5h7M585.5,672V685M582,672.5h7M582,684.5h7M598.5,670V681M595,670.5h7M595,680.5h7M611.5,688V698M608,688.5h7M608,697.5h7M624.5,687V697M621,687.5h7M621,696.5h7M637.5,671V680M634,671.5h7M634,679.5h7M651.5,689V698M648,689.5h7M648,697.5h7M664.5,676V685M661,676.5h7M661,684.5h7M677.5,671V684M674,671.5h7M674,683.5h7M690.5,659V673M687,659.5h7M687,672.5h7M703.5,650V667M700,650.5h7M700,666.5h7M716.5,630V648M713,630.5h7M713,647.5h7M729.5,619V637M726,619.5h7M726,636.5h7M743.5,630V648M740,630.5h7M740,647.5h7M756.5,638V654M753,638.5h7M753,653.5h7M769.5,619V634M766,619.5h7M766,633.5h7M782.5,624V636M779,624.5h7M779,635.5h7M795.5,635V649M792,635.5h7M792,648.5h7M808.5,622V636M805,622.5h7M805,635.5h7M821.5,621V635M818,621.5h7M818,634.5h7" stroke="#000" stroke-width="1" fill="none"/>
</g>
<path d="M291,623h2v1h2v2h1v2h-1v2h-2v1h-2v-1h-2v-2h-1v-2h1v-2h2zM305,610h2v1h2v2h1v2h-1v2h-2v1h-2v-1h-2v-2h-1v-2h1v-2h2zM318,624h2v1h2v2h1v2h-1v2h-2v1h-2v-1h-2v-2h-1v-2h1v-2h2zM331,620h2v1h2v2h1v2h-1v2h-2v1h-2v-1h-2v-2h-1v-2h1v-2h2zM344,625h2v1h2v2h1v2h-1v2h-2v1h-2v-1h-2v-2h-1v-2h1v-2h2zM360,625h2v1h2v2h1v2h-1v2h-2v1h-2v-1h-2v-2h-1v-2h1v-2h2zM373,624h2v1h2v2h1v2h-1v2h-2v1h-2v-1h-2v-2h-1v-2h1v-2h2zM386,613h2v1h2v2h1v2h-1v2h-2v1h-2v-1h-2v-2h-1v-2h1v-2h2zM400,630h2v1h2v2h1v2h-1v2h-2v1h-2v-1h-2v-2h-1v-2h1v-2h2zM413,637h2v1h2v2h1v2h-1v2h-2v1h-2v-1h-2v-2h-1v-2h1v-2h2zM426,653h2v1h2v2h1v2h-1v2h-2v1h-2v-1h-2v-2h-1v-2h1v-2h2zM439,664h2v1h2v2h1v2h-1v2h-2v1h-2v-1h-2v-2h-1v-2h1v-2h2zM452,683h2v1h2v2h1v2h-1v2h-2v1h-2v-1h-2v-2h-1v-2h1v-2h2zM465,687h2v1h2v2h1v2h-1v2h-2v1h-2v-1h-2v-2h-1v-2h1v-2h2zM479,678h2v1h2v2h1v2h-1v2h-2v1h-2v-1h-2v-2h-1v-2h1v-2h2zM492,684h2v1h2v2h1v2h-1v2h-2v1h-2v-1h-2v-2h-1v-2h1v-2h2zM505,696h2v1h2v2h1v2h-1v2h-2v1h-2v-1h-2v-2h-1v-2h1v-2h2zM518,691h2v1h2v2h1v2h-1v2h-2v1h-2v-1h-2v-2h-1v-2h1v-2h2zM531,704h2v1h2v2h1v2h-1v2h-2v1h-2v-1h-2v-2h-1v-2h1v-2h2zM544,698h2v1h2v2h1v2h-1v2h-2v1h-2v-1h-2v-2h-1v-2h1v-2h2zM558,703h2v1h2v2h1v2h-1v2h-2v1h-2v-1h-2v-2h-1v-2h1v-2h2zM571,697h2v1h2v2h1v2h-1v2h-2v1h-2v-1h-2v-2h-1v-2h1v-2h2zM584,674h2v1h2v2h1v2h-1v2h-2v1h-2v-1h-2v-2h-1v-2h1v-2h2zM597,671h2v1h2v2h1v2h-1v2h-2v1h-2v-1h-2v-2h-1v-2h1v-2h2zM610,689h2v1h2v2h1v2h-1v2h-2v1h-2v-1h-2v-2h-1v-2h1v-2h2zM623,687h2v1h2v2h1v2h-1v2h-2v1h-2v-1h-2v-2h-1v-2h1v-2h2zM636,671h2v1h2v2h1v2h-1v2h-2v1h-2v-1h-2v-2h-1v-2h1v-2h2zM650,689h2v1h2v2h1v2h-1v2h-2v1h-2v-1h-2v-2h-1v-2h1v-2h2zM663,676h2v1h2v2h1v2h-1v2h-2v1h-2v-1h-2v-2h-1v-2h1v-2h2zM676,673h2v1h2v2h1v2h-1v2h-2v1h-2v-1h-2v-2h-1v-2h1v-2h2zM689,661h2v1h2v2h1v2h-1v2h-2v1h-2v-1h-2v-2h-1v-2h1v-2h2zM702,654h2v1h2v2h1v2h-1v2h-2v1h-2v-1h-2v-2h-1v-2h1v-2h2zM715,634h2v1h2v2h1v2h-1v2h-2v1h-2v-1h-2v-2h-1v-2h1v-2h2zM728,623h2v1h2v2h1v2h-1v2h-2v1h-2v-1h-2v-2h-1v-2h1v-2h2zM742,635h2v1h2v2h1v2h-1v2h-2v1h-2v-1h-2v-2h-1v-2h1v-2h2zM755,642h2v1h2v2h1v2h-1v2h-2v1h-2v-1h-2v-2h-1v-2h1v-2h2zM768,622h2v1h2v2h1v2h-1v2h-2v1h-2v-1h-2v-2h-1v-2h1v-2h2zM781,625h2v1h2v2h1v2h-1v2h-2v1h-2v-1h-2v-2h-1v-2h1v-2h2zM794,637h2v1h2v2h1v2h-1v2h-2v1h-2v-1h-2v-2h-1v-2h1v-2h2zM807,624h2v1h2v2h1v2h-1v2h-2v1h-2v-1h-2v-2h-1v-2h1v-2h2zM820,623h2v1h2v2h1v2h-1v2h-2v1h-2v-1h-2v-2h-1v-2h1v-2h2z" fill="#000" shape-rendering="crispEdges"/>
<path d="M291,624h2v1h1v1h1v2h-1v1h-1v1h-2v-1h-1v-1h-1v-2h1v-1h1zM305,611h2v1h1v1h1v2h-1v1h-1v1h-2v-1h-1v-1h-1v-2h1v-1h1zM318,625h2v1h1v1h1v2h-1v1h-1v1h-2v-1h-1v-1h-1v-2h1v-1h1zM331,621h2v1h1v1h1v2h-1v1h-1v1h-2v-1h-1v-1h-1v-2h1v-1h1zM344,626h2v1h1v1h1v2h-1v1h-1v1h-2v-1h-1v-1h-1v-2h1v-1h1zM360,626h2v1h1v1h1v2h-1v1h-1v1h-2v-1h-1v-1h-1v-2h1v-1h1zM373,625h2v1h1v1h1v2h-1v1h-1v1h-2v-1h-1v-1h-1v-2h1v-1h1zM386,614h2v1h1v1h1v2h-1v1h-1v1h-2v-1h-1v-1h-1v-2h1v-1h1zM400,631h2v1h1v1h1v2h-1v1h-1v1h-2v-1h-1v-1h-1v-2h1v-1h1zM413,638h2v1h1v1h1v2h-1v1h-1v1h-2v-1h-1v-1h-1v-2h1v-1h1zM426,654h2v1h1v1h1v2h-1v1h-1v1h-2v-1h-1v-1h-1v-2h1v-1h1zM439,665h2v1h1v1h1v2h-1v1h-1v1h-2v-1h-1v-1h-1v-2h1v-1h1zM452,684h2v1h1v1h1v2h-1v1h-1v1h-2v-1h-1v-1h-1v-2h1v-1h1zM465,688h2v1h1v1h1v2h-1v1h-1v1h-2v-1h-1v-1h-1v-2h1v-1h1zM479,679h2v1h1v1h1v2h-1v1h-1v1h-2v-1h-1v-1h-1v-2h1v-1h1zM492,685h2v1h1v1h1v2h-1v1h-1v1h-2v-1h-1v-1h-1v-2h1v-1h1zM505,697h2v1h1v1h1v2h-1v1h-1v1h-2v-1h-1v-1h-1v-2h1v-1h1zM518,692h2v1h1v1h1v2h-1v1h-1v1h-2v-1h-1v-1h-1v-2h1v-1h1zM531,705h2v1h1v1h1v2h-1v1h-1v1h-2v-1h-1v-1h-1v-2h1v-1h1zM544,699h2v1h1v1h1v2h-1v1h-1v1h-2v-1h-1v-1h-1v-2h1v-1h1zM558,704h2v1h1v1h1v2h-1v1h-1v1h-2v-1h-1v-1h-1v-2h1v-1h1zM571,698h2v1h1v1h1v2h-1v1h-1v1h-2v-1h-1v-1h-1v-2h1v-1h1zM584,675h2v1h1v1h1v2h-1v1h-1v1h-2v-1h-1v-1h-1v-2h1v-1h1zM597,672h2v1h1v1h1v2h-1v1h-1v1h-2v-1h-1v-1h-1v-2h1v-1h1zM610,690h2v1h1v1h1v2h-1v1h-1v1h-2v-1h-1v-1h-1v-2h1v-1h1zM623,688h2v1h1v1h1v2h-1v1h-1v1h-2v-1h-1v-1h-1v-2h1v-1h1zM636,672h2v1h1v1h1v2h-1v1h-1v1h-2v-1h-1v-1h-1v-2h1v-1h1zM650,690h2v1h1v1h1v2h-1v1h-1v1h-2v-1h-1v-1h-1v-2h1v-1h1zM663,677h2v1h1v1h1v2h-1v1h-1v1h-2v-1h-1v-1h-1v-2h1v-1h1zM676,674h2v1h1v1h1v2h-1v1h-1v1h-2v-1h-1v-1h-1v-2h1v-1h1zM689,662h2v1h1v1h1v2h-1v1h-1v1h-2v-1h-1v-1h-1v-2h1v-1h1zM702,655h2v1h1v1h1v2h-1v1h-1v1h-2v-1h-1v-1h-1v-2h1v-1h1zM715,635h2v1h1v1h1v2h-1v1h-1v1h-2v-1h-1v-1h-1v-2h1v-1h1zM728,624h2v1h1v1h1v2h-1v1h-1v1h-2v-1h-1v-1h-1v-2h1v-1h1zM742,636h2v1h1v1h1v2h-1v1h-1v1h-2v-1h-1v-1h-1v-2h1v-1h1zM755,643h2v1h1v1h1v2h-1v1h-1v1h-2v-1h-1v-1h-1v-2h1v-1h1zM768,623h2v1h1v1h1v2h-1v1h-1v1h-2v-1h-1v-1h-1v-2h1v-1h1zM781,626h2v1h1v1h1v2h-1v1h-1v1h-2v-1h-1v-1h-1v-2h1v-1h1zM794,638h2v1h1v1h1v2h-1v1h-1v1h-2v-1h-1v-1h-1v-2h1v-1h1zM807,625h2v1h1v1h1v2h-1v1h-1v1h-2v-1h-1v-1h-1v-2h1v-1h1zM820,624h2v1h1v1h1v2h-1v1h-1v1h-2v-1h-1v-1h-1v-2h1v-1h1z" fill="#ff0000" shape-rendering="crispEdges"/>
<polyline points="287,813.3 294,813.3 294,814.2 313,814.2 313,815.2 334,815.2 334,816 400,816.5 513,817.5 560,816.5 595,815.5 613,814.5 631,813.5 650,812.5 665,811.5 680,810.5 700,809.5 755.4,803.3 823.5,793.4" fill="none" stroke="#99ccff" stroke-width="1" shape-rendering="crispEdges"/>
<polyline points="287,815 290,817.5 295,814.5 299,817.5 308,817.5 312,816 315,815 318,817 321,816 323,815.5 326,817 334,817 338,816 340,817 343,813.5 345,817 350,816.5 360,817 366,816.5 372,817 377,815 382,817.5 392,817.5 398.5,809.5 403,817.5 406.5,813.5 409,817.5 412,816.5 416,817.5 420,817.5 422.5,814.5 425,817.5 431,817.5 435.5,810.5 439,817.5 450,816.5 455,816.5 458,814 462,816 464.5,814 467,816.5 476,816.5 478,817.5 480,816.5 482,817.5 513,817.5 515,816.5 523,816.5 526,817.5 530,815 534,817.5 540,817.5 543.5,815 546,817.5 551,815 555,815.5 559,814 566,816.5 571,817 572.5,812 574.5,797.5 577,808.5 578,817 582,816.5 595,817 600,816 603,815 607,816.5 640,817 697,816 700,813.7 705.7,812.5 708.3,816.3 711.5,813.7 719,817.5 784,817.5" fill="none" stroke="#008000" stroke-width="1" shape-rendering="crispEdges"/>
<g shape-rendering="crispEdges">
<rect x="74.5" y="740.5" width="117" height="78" fill="#fff" stroke="#000" stroke-width="1"/>
<path d="M94,751.5h5M96.5,749v5" stroke="#ff9900" stroke-width="1" fill="none"/>
<rect x="86" y="789" width="21" height="1" fill="#99ccff"/>
<rect x="86" y="808" width="21" height="1" fill="#008000"/>
</g>
<path d="M95,766h2v1h2v2h1v2h-1v2h-2v1h-2v-1h-2v-2h-1v-2h1v-2h2z" fill="#000" shape-rendering="crispEdges"/>
<path d="M95,767h2v1h1v1h1v2h-1v1h-1v1h-2v-1h-1v-1h-1v-2h1v-1h1z" fill="#ff0000" shape-rendering="crispEdges"/>
<g font-family='"Liberation Sans", sans-serif' fill="#000">
<text x="110" y="755" font-size="12" font-weight="normal" text-anchor="start" letter-spacing="0.3">Single Images</text>
<text x="110" y="774" font-size="12" font-weight="normal" text-anchor="start" letter-spacing="0.3">Grp Avg</text>
<text x="110" y="793" font-size="12" font-weight="normal" text-anchor="start" letter-spacing="0.3">Air Mass</text>
<text x="110" y="812" font-size="12" font-weight="normal" text-anchor="start" letter-spacing="0.3">Loss +1</text>
<text x="85.5" y="506" font-size="11.6" font-weight="normal" text-anchor="start" letter-spacing="0.2">SYSTEMATIC ERRORS PRESENT</text>
<text x="64" y="494.5" font-size="12" font-weight="normal" text-anchor="end" letter-spacing="0.3">-0.020</text>
<text x="1056" y="494.5" font-size="12" font-weight="normal" text-anchor="start" letter-spacing="0.3">6.0</text>
<text x="64" y="560.5" font-size="12" font-weight="normal" text-anchor="end" letter-spacing="0.3">-0.010</text>
<text x="1056" y="560.5" font-size="12" font-weight="normal" text-anchor="start" letter-spacing="0.3">5.0</text>
<text x="64" y="625.5" font-size="12" font-weight="normal" text-anchor="end" letter-spacing="0.3">0.000</text>
<text x="1056" y="625.5" font-size="12" font-weight="normal" text-anchor="start" letter-spacing="0.3">4.0</text>
<text x="64" y="691.5" font-size="12" font-weight="normal" text-anchor="end" letter-spacing="0.3">0.010</text>
<text x="1056" y="691.5" font-size="12" font-weight="normal" text-anchor="start" letter-spacing="0.3">3.0</text>
<text x="64" y="756.5" font-size="12" font-weight="normal" text-anchor="end" letter-spacing="0.3">0.020</text>
<text x="1056" y="756.5" font-size="12" font-weight="normal" text-anchor="start" letter-spacing="0.3">2.0</text>
<text x="64" y="822.5" font-size="12" font-weight="normal" text-anchor="end" letter-spacing="0.3">0.030</text>
<text x="1056" y="822.5" font-size="12" font-weight="normal" text-anchor="start" letter-spacing="0.3">1.0</text>
<text x="74.5" y="841.5" font-size="12" font-weight="normal" text-anchor="middle" letter-spacing="0.3">-5</text>
<text x="171.5" y="841.5" font-size="12" font-weight="normal" text-anchor="middle" letter-spacing="0.3">-4</text>
<text x="269.5" y="841.5" font-size="12" font-weight="normal" text-anchor="middle" letter-spacing="0.3">-3</text>
<text x="366.5" y="841.5" font-size="12" font-weight="normal" text-anchor="middle" letter-spacing="0.3">-2</text>
<text x="463.5" y="841.5" font-size="12" font-weight="normal" text-anchor="middle" letter-spacing="0.3">-1</text>
<text x="561.5" y="841.5" font-size="12" font-weight="normal" text-anchor="middle" letter-spacing="0.3">0</text>
<text x="658.5" y="841.5" font-size="12" font-weight="normal" text-anchor="middle" letter-spacing="0.3">1</text>
<text x="755.5" y="841.5" font-size="12" font-weight="normal" text-anchor="middle" letter-spacing="0.3">2</text>
<text x="852.5" y="841.5" font-size="12" font-weight="normal" text-anchor="middle" letter-spacing="0.3">3</text>
<text x="950.5" y="841.5" font-size="12" font-weight="normal" text-anchor="middle" letter-spacing="0.3">4</text>
<text x="1047.5" y="841.5" font-size="12" font-weight="normal" text-anchor="middle" letter-spacing="0.3">5</text>
<text transform="translate(16,653) rotate(-90)" font-size="13" font-weight="bold" text-anchor="middle">MAGNITUDE DIFFERENCE [mag]</text>
<text transform="translate(1090,654) rotate(-90)" font-size="13.3" font-weight="bold" text-anchor="middle">AIR MASS &amp; LOSS +1 [mag]</text>
</g>
<g shape-rendering="crispEdges">
<line x1="0" y1="429.5" x2="1100" y2="429.5" stroke="#c0c0c0"/>
<line x1="0" y1="444.5" x2="1100" y2="444.5" stroke="#c0c0c0"/>
<line x1="0" y1="459.5" x2="1100" y2="459.5" stroke="#c0c0c0"/>
<line x1="77.5" y1="414" x2="77.5" y2="429" stroke="#c0c0c0"/>
<line x1="77.5" y1="429" x2="77.5" y2="444" stroke="#c0c0c0"/>
<line x1="77.5" y1="444" x2="77.5" y2="459" stroke="#c0c0c0"/>
<line x1="77.5" y1="459" x2="77.5" y2="474" stroke="#c0c0c0"/>
<line x1="167.5" y1="414" x2="167.5" y2="429" stroke="#c0c0c0"/>
<line x1="167.5" y1="429" x2="167.5" y2="444" stroke="#c0c0c0"/>
<line x1="167.5" y1="444" x2="167.5" y2="459" stroke="#c0c0c0"/>
<line x1="167.5" y1="459" x2="167.5" y2="474" stroke="#c0c0c0"/>
<line x1="236.5" y1="414" x2="236.5" y2="429" stroke="#c0c0c0"/>
<line x1="236.5" y1="429" x2="236.5" y2="444" stroke="#c0c0c0"/>
<line x1="236.5" y1="444" x2="236.5" y2="459" stroke="#c0c0c0"/>
<line x1="236.5" y1="459" x2="236.5" y2="474" stroke="#c0c0c0"/>
<line x1="332.5" y1="414" x2="332.5" y2="429" stroke="#c0c0c0"/>
<line x1="332.5" y1="429" x2="332.5" y2="444" stroke="#c0c0c0"/>
<line x1="332.5" y1="444" x2="332.5" y2="459" stroke="#c0c0c0"/>
<line x1="332.5" y1="459" x2="332.5" y2="474" stroke="#c0c0c0"/>
<line x1="380.5" y1="414" x2="380.5" y2="429" stroke="#c0c0c0"/>
<line x1="380.5" y1="429" x2="380.5" y2="444" stroke="#c0c0c0"/>
<line x1="380.5" y1="444" x2="380.5" y2="459" stroke="#c0c0c0"/>
<line x1="380.5" y1="459" x2="380.5" y2="474" stroke="#c0c0c0"/>
<line x1="426.5" y1="414" x2="426.5" y2="429" stroke="#c0c0c0"/>
<line x1="426.5" y1="429" x2="426.5" y2="444" stroke="#c0c0c0"/>
<line x1="426.5" y1="444" x2="426.5" y2="459" stroke="#c0c0c0"/>
<line x1="426.5" y1="459" x2="426.5" y2="474" stroke="#c0c0c0"/>
<line x1="471.5" y1="414" x2="471.5" y2="429" stroke="#c0c0c0"/>
<line x1="471.5" y1="429" x2="471.5" y2="444" stroke="#c0c0c0"/>
<line x1="471.5" y1="444" x2="471.5" y2="459" stroke="#c0c0c0"/>
<line x1="471.5" y1="459" x2="471.5" y2="474" stroke="#c0c0c0"/>
<line x1="510.5" y1="414" x2="510.5" y2="429" stroke="#c0c0c0"/>
<line x1="510.5" y1="429" x2="510.5" y2="444" stroke="#c0c0c0"/>
<line x1="510.5" y1="444" x2="510.5" y2="459" stroke="#c0c0c0"/>
<line x1="510.5" y1="459" x2="510.5" y2="474" stroke="#c0c0c0"/>
<line x1="552.5" y1="414" x2="552.5" y2="429" stroke="#c0c0c0"/>
<line x1="552.5" y1="429" x2="552.5" y2="444" stroke="#c0c0c0"/>
<line x1="552.5" y1="444" x2="552.5" y2="459" stroke="#c0c0c0"/>
<line x1="552.5" y1="459" x2="552.5" y2="474" stroke="#c0c0c0"/>
<line x1="588.5" y1="414" x2="588.5" y2="429" stroke="#c0c0c0"/>
<line x1="588.5" y1="429" x2="588.5" y2="444" stroke="#c0c0c0"/>
<line x1="588.5" y1="444" x2="588.5" y2="459" stroke="#c0c0c0"/>
<line x1="588.5" y1="459" x2="588.5" y2="474" stroke="#c0c0c0"/>
<line x1="621.5" y1="414" x2="621.5" y2="429" stroke="#c0c0c0"/>
<line x1="621.5" y1="429" x2="621.5" y2="444" stroke="#c0c0c0"/>
<line x1="621.5" y1="444" x2="621.5" y2="459" stroke="#c0c0c0"/>
<line x1="621.5" y1="459" x2="621.5" y2="474" stroke="#c0c0c0"/>
<line x1="659.5" y1="414" x2="659.5" y2="429" stroke="#c0c0c0"/>
<line x1="659.5" y1="429" x2="659.5" y2="444" stroke="#c0c0c0"/>
<line x1="659.5" y1="444" x2="659.5" y2="459" stroke="#c0c0c0"/>
<line x1="659.5" y1="459" x2="659.5" y2="474" stroke="#c0c0c0"/>
<line x1="691.5" y1="414" x2="691.5" y2="429" stroke="#c0c0c0"/>
<line x1="691.5" y1="429" x2="691.5" y2="444" stroke="#c0c0c0"/>
<line x1="691.5" y1="444" x2="691.5" y2="459" stroke="#c0c0c0"/>
<line x1="691.5" y1="459" x2="691.5" y2="474" stroke="#c0c0c0"/>
<line x1="725.5" y1="414" x2="725.5" y2="429" stroke="#c0c0c0"/>
<line x1="725.5" y1="429" x2="725.5" y2="444" stroke="#c0c0c0"/>
<line x1="725.5" y1="444" x2="725.5" y2="459" stroke="#c0c0c0"/>
<line x1="725.5" y1="459" x2="725.5" y2="474" stroke="#c0c0c0"/>
<line x1="796.5" y1="414" x2="796.5" y2="429" stroke="#c0c0c0"/>
<line x1="796.5" y1="429" x2="796.5" y2="444" stroke="#c0c0c0"/>
<line x1="796.5" y1="444" x2="796.5" y2="459" stroke="#c0c0c0"/>
<line x1="796.5" y1="459" x2="796.5" y2="474" stroke="#c0c0c0"/>
<line x1="882.5" y1="414" x2="882.5" y2="429" stroke="#c0c0c0"/>
<line x1="882.5" y1="429" x2="882.5" y2="444" stroke="#c0c0c0"/>
<line x1="882.5" y1="444" x2="882.5" y2="459" stroke="#c0c0c0"/>
<line x1="882.5" y1="459" x2="882.5" y2="474" stroke="#c0c0c0"/>
<line x1="931.5" y1="414" x2="931.5" y2="429" stroke="#c0c0c0"/>
<line x1="931.5" y1="429" x2="931.5" y2="444" stroke="#c0c0c0"/>
<line x1="976.5" y1="414" x2="976.5" y2="429" stroke="#c0c0c0"/>
<line x1="976.5" y1="429" x2="976.5" y2="444" stroke="#c0c0c0"/>
<line x1="976.5" y1="444" x2="976.5" y2="459" stroke="#c0c0c0"/>
<line x1="976.5" y1="459" x2="976.5" y2="474" stroke="#c0c0c0"/>
<line x1="1018.5" y1="414" x2="1018.5" y2="429" stroke="#c0c0c0"/>
<line x1="1018.5" y1="429" x2="1018.5" y2="444" stroke="#c0c0c0"/>
<line x1="1018.5" y1="444" x2="1018.5" y2="459" stroke="#c0c0c0"/>
<line x1="1018.5" y1="459" x2="1018.5" y2="474" stroke="#c0c0c0"/>
<line x1="1056.5" y1="414" x2="1056.5" y2="429" stroke="#c0c0c0"/>
<line x1="1056.5" y1="429" x2="1056.5" y2="444" stroke="#c0c0c0"/>
<line x1="1056.5" y1="444" x2="1056.5" y2="459" stroke="#c0c0c0"/>
<line x1="1056.5" y1="459" x2="1056.5" y2="474" stroke="#c0c0c0"/>
<line x1="0" y1="414.5" x2="1100" y2="414.5" stroke="#000"/>
<line x1="0" y1="474.5" x2="1100" y2="474.5" stroke="#000"/>
<line x1="976.5" y1="414" x2="976.5" y2="445" stroke="#000"/>
<line x1="976" y1="444.5" x2="1100" y2="444.5" stroke="#000"/>
</g>
</svg>
<div class="t b" style="top:415px;color:#000;right:1024.5px;text-align:right;">Object:</div>
<div class="t b" style="top:415px;color:#0000ff;left:82.5px;letter-spacing:-0.5px;">TRES4</div>
<div class="t b" style="top:415px;color:#000;right:866.0px;text-align:right;letter-spacing:-0.3px;">HJD mid:</div>
<div class="t b" style="top:415px;color:#0000ff;right:770.0px;text-align:right;letter-spacing:0.35px;">2455012.7687</div>
<div class="t b" style="top:415px;color:#000;right:722.0px;text-align:right;letter-spacing:-0.2px;">UT mid:</div>
<div class="t b" style="top:415px;color:#0000ff;left:303px;width:200px;text-align:center;letter-spacing:0.35px;">6.381</div>
<div class="t b" style="top:415px;color:#000;right:631.0px;text-align:right;">L [hr]:</div>
<div class="t b" style="top:415px;color:#0000ff;left:390.5px;width:200px;text-align:center;letter-spacing:0.35px;">3.61</div>
<div class="t b" style="top:415px;color:#000;right:550.0px;text-align:right;">Depth:</div>
<div class="t b" style="top:415px;color:#0000ff;right:515.0px;text-align:right;letter-spacing:0.35px;">12.3</div>
<div class="t b" style="top:415px;color:#000;right:481.0px;text-align:right;">Fp:</div>
<div class="t b" style="top:415px;color:#0000ff;right:443.0px;text-align:right;letter-spacing:0.35px;">0.38</div>
<div class="t b" style="top:415px;color:#000;right:412.0px;text-align:right;">F2:</div>
<div class="t b" style="top:415px;color:#0000ff;right:377.0px;text-align:right;letter-spacing:0.35px;">0.70</div>
<div class="t b" style="top:415px;color:#000;right:306.0px;text-align:right;">Aperture:</div>
<div class="t b" style="top:415px;color:#0000ff;left:802.0px;">10-inch</div>
<div class="t b" style="top:415px;color:#000;right:170.5px;text-align:right;">Trend:</div>
<div class="t" style="top:415px;color:#0000ff;left:853.5px;width:200px;text-align:center;">-0.22</div>
<div class="t b" style="top:415px;color:#0000ff;right:83.5px;text-align:right;letter-spacing:-0.26px;">Early:</div>
<div class="t b" style="top:415px;color:#0000ff;right:46.0px;text-align:right;letter-spacing:0.35px;">2.3</div>
<div class="t b" style="top:415px;color:#0000ff;left:980px;width:200px;text-align:center;">min</div>
<div class="t b" style="top:430px;color:#000;right:1024.5px;text-align:right;">TransitDate:</div>
<div class="t b" style="top:430px;color:#0000ff;left:80.0px;">30-Jun-2009</div>
<div class="t b" style="top:430px;color:#000;right:866.0px;text-align:right;">+/-</div>
<div class="t b" style="top:430px;color:#0000ff;right:770.0px;text-align:right;letter-spacing:0.35px;">0.0016</div>
<div class="t b" style="top:430px;color:#0000ff;right:722.0px;text-align:right;">+/-</div>
<div class="t b" style="top:430px;color:#0000ff;left:303px;width:200px;text-align:center;letter-spacing:0.35px;">0.038</div>
<div class="t b" style="top:430px;color:#0000ff;right:631.0px;text-align:right;">+/-</div>
<div class="t b" style="top:430px;color:#0000ff;left:390.5px;width:200px;text-align:center;letter-spacing:0.35px;">0.08</div>
<div class="t b" style="top:430px;color:#0000ff;right:550.0px;text-align:right;">+/-</div>
<div class="t b" style="top:430px;color:#0000ff;right:515.5px;text-align:right;letter-spacing:0.35px;">1.1</div>
<div class="t b" style="top:430px;color:#0000ff;right:481.0px;text-align:right;">+/-</div>
<div class="t b" style="top:430px;color:#0000ff;right:443.0px;text-align:right;letter-spacing:0.35px;">0.04</div>
<div class="t b" style="top:430px;color:#0000ff;right:412.0px;text-align:right;">+/-</div>
<div class="t b" style="top:430px;color:#0000ff;right:377.0px;text-align:right;letter-spacing:0.35px;">0.23</div>
<div class="t b" style="top:430px;color:#000;right:306.0px;text-align:right;">Exposure:</div>
<div class="t b" style="top:430px;color:#0000ff;left:801.5px;">90 seconds</div>
<div class="t b" style="top:430px;color:#000;right:170.5px;text-align:right;">AMC:</div>
<div class="t" style="top:430px;color:#0000ff;left:854px;width:200px;text-align:center;">7.9</div>
<div class="t b" style="top:430px;color:#0000ff;right:83.5px;text-align:right;">+/-</div>
<div class="t b" style="top:430px;color:#0000ff;right:46.0px;text-align:right;letter-spacing:0.35px;">2.3</div>
<div class="t b" style="top:430px;color:#0000ff;left:980px;width:200px;text-align:center;">min</div>
<div class="t b" style="top:445px;color:#000;right:1024.5px;text-align:right;">Band:</div>
<div class="t b" style="top:445px;color:#0000ff;left:82.5px;letter-spacing:-0.8px;">BB</div>
<div class="t b" style="top:445px;color:#008000;right:866.0px;text-align:right;letter-spacing:-0.2px;">Prior Info:</div>
<div class="t" style="top:445px;color:#008000;right:770.0px;text-align:right;">2455012.7703</div>
<div class="t" style="top:445px;color:#008000;right:676.0px;text-align:right;">6.420</div>
<div class="t" style="top:445px;color:#008000;right:592.0px;text-align:right;">3.52</div>
<div class="t" style="top:445px;color:#008000;right:515.0px;text-align:right;">13.5</div>
<div class="t" style="top:445px;color:#008000;right:443.0px;text-align:right;">0.28</div>
<div class="t" style="top:445px;color:#008000;right:378.0px;text-align:right;">0.81</div>
<div class="t b" style="top:445px;color:#000;right:306.0px;text-align:right;">HJDo:</div>
<div class="t" style="top:445px;color:#008000;left:799.0px;">4230.905300</div>
<div class="t b" style="top:445px;color:#000;right:126.0px;text-align:right;">Object #:</div>
<div class="t" style="top:445px;color:#000;left:897.5px;width:200px;text-align:center;">16</div>
<div class="t b" style="top:460px;color:#000;right:1024.5px;text-align:right;">Observer:</div>
<div class="t b" style="top:460px;color:#0000ff;left:82.5px;letter-spacing:-0.45px;">NORBY (NWP)</div>
<div class="t b" style="top:460px;color:#0000ff;left:241.5px;letter-spacing:-0.43px;">MISSOURI</div>
<div class="t b" style="top:460px;color:#000;right:722.0px;text-align:right;">V-mag:</div>
<div class="t" style="top:460px;color:#000;right:676.0px;text-align:right;">11.34</div>
<div class="t b" style="top:460px;color:#008000;right:631.0px;text-align:right;">+/-</div>
<div class="t" style="top:460px;color:#008000;right:592.0px;text-align:right;">0.16</div>
<div class="t b" style="top:460px;color:#008000;right:550.0px;text-align:right;">+/-</div>
<div class="t" style="top:460px;color:#008000;right:515.0px;text-align:right;">3.0</div>
<div class="t b" style="top:460px;color:#008000;right:481.0px;text-align:right;">+/-</div>
<div class="t" style="top:460px;color:#008000;right:443.0px;text-align:right;">0.16</div>
<div class="t b" style="top:460px;color:#008000;right:412.0px;text-align:right;">+/-</div>
<div class="t" style="top:460px;color:#008000;right:377.0px;text-align:right;">0.30</div>
<div class="t b" style="top:460px;color:#000;right:306.0px;text-align:right;">Period:</div>
<div class="t" style="top:460px;color:#008000;left:799.0px;">3.5539320</div>
<div class="t b" style="top:460px;color:#000;right:126.0px;text-align:right;">ObsnStartDate:</div>
<div class="t" style="top:460px;color:#000;left:898px;width:200px;text-align:center;">2009</div>
<div class="t" style="top:460px;color:#000;left:937.5px;width:200px;text-align:center;">6</div>
<div class="t" style="top:460px;color:#000;left:980px;width:200px;text-align:center;">30</div>
</body></html>
